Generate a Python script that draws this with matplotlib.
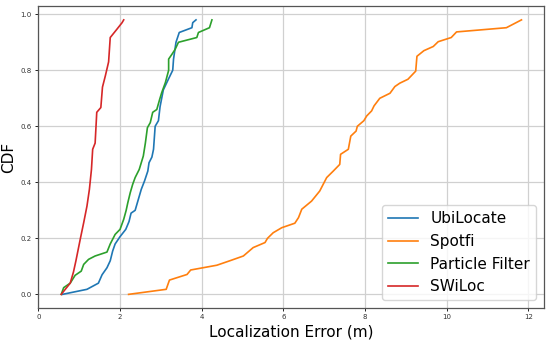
import matplotlib
matplotlib.use('Agg')
import matplotlib.pyplot as plt

# CDF curves (x = localization error in m, y = CDF)
ubi_x = [0.59, 1.19, 1.47, 1.56, 1.68, 1.76, 1.82, 1.88, 2.00, 2.14, 2.22, 2.27, 2.37,
         2.45, 2.52, 2.60, 2.68, 2.71, 2.78, 2.82, 2.86, 2.94, 2.98, 3.06, 3.19, 3.29,
         3.31, 3.37, 3.45, 3.76, 3.78, 3.86]
ubi_y = [0.0, 0.018, 0.04, 0.07, 0.095, 0.12, 0.155, 0.18, 0.206, 0.232, 0.26, 0.29, 0.30,
         0.34, 0.375, 0.405, 0.44, 0.47, 0.49, 0.518, 0.60, 0.62, 0.67, 0.73, 0.77, 0.80,
         0.84, 0.90, 0.935, 0.952, 0.97, 0.98]

spotfi_x = [2.21, 3.13, 3.21, 3.64, 3.73, 4.37, 4.69, 5.02, 5.26, 5.55, 5.61, 5.75, 5.96,
            6.28, 6.37, 6.45, 6.69, 6.89, 7.06, 7.22, 7.38, 7.40, 7.59, 7.65, 7.78, 7.81,
            7.97, 8.04, 8.16, 8.22, 8.36, 8.61, 8.73, 8.85, 9.05, 9.24, 9.27, 9.44, 9.67,
            9.79, 10.11, 10.24, 11.46, 11.83]
spotfi_y = [0.0, 0.018, 0.051, 0.071, 0.087, 0.104, 0.12, 0.137, 0.167, 0.185, 0.20, 0.22,
            0.238, 0.254, 0.274, 0.304, 0.333, 0.369, 0.417, 0.44, 0.464, 0.50, 0.518, 0.565,
            0.583, 0.60, 0.62, 0.637, 0.655, 0.673, 0.70, 0.718, 0.742, 0.754, 0.768, 0.797,
            0.85, 0.87, 0.885, 0.902, 0.917, 0.937, 0.952, 0.98]

pf_x = [0.56, 0.62, 0.78, 0.90, 1.05, 1.11, 1.23, 1.39, 1.68, 1.76, 1.88, 2.00, 2.09,
        2.15, 2.19, 2.25, 2.31, 2.37, 2.47, 2.52, 2.57, 2.62, 2.67, 2.74, 2.80, 2.90,
        2.97, 3.02, 3.11, 3.19, 3.19, 3.27, 3.35, 3.43, 3.88, 3.92, 4.19, 4.25]
pf_y = [0.0, 0.024, 0.04, 0.068, 0.083, 0.107, 0.125, 0.137, 0.151, 0.18, 0.214, 0.232,
        0.268, 0.30, 0.327, 0.363, 0.393, 0.417, 0.446, 0.47, 0.494, 0.54, 0.595, 0.613,
        0.65, 0.66, 0.696, 0.72, 0.756, 0.80, 0.84, 0.857, 0.875, 0.90, 0.917, 0.935,
        0.952, 0.98]

swiloc_x = [0.56, 0.78, 0.86, 0.92, 1.03, 1.11, 1.19, 1.25, 1.30, 1.33, 1.39, 1.43, 1.53,
            1.57, 1.64, 1.72, 1.76, 1.92, 2.05, 2.09]
swiloc_y = [0.0, 0.04, 0.08, 0.12, 0.20, 0.256, 0.315, 0.375, 0.446, 0.518, 0.54, 0.65,
            0.667, 0.74, 0.78, 0.83, 0.917, 0.946, 0.97, 0.98]

labels = ['UbiLocate', 'Spotfi', 'Particle Filter', 'SWiLoc']
colors = ['tab:blue', 'tab:orange', 'tab:green', 'tab:red']

fig = plt.figure(figsize=(5.5, 3.45), dpi=100)
ax = fig.add_axes([0.069, 0.107, 0.92, 0.876])

series = [(ubi_x, ubi_y), (spotfi_x, spotfi_y), (pf_x, pf_y), (swiloc_x, swiloc_y)]
for (xs, ys), lab, col in zip(series, labels, colors):
    ax.plot(xs, ys, color=col, linewidth=1.2, label=lab)

ax.set_xlim(-0.01, 12.38)
ax.set_ylim(-0.049, 1.03)
ax.set_xticks([0, 2, 4, 6, 8, 10, 12])
ax.set_yticks([0.0, 0.2, 0.4, 0.6, 0.8, 1.0])
ax.tick_params(labelsize=5, length=2.5, width=0.6, pad=2, labelcolor='#333333')
ax.grid(True, color='#d0d0d0', linewidth=0.9)
for s in ax.spines.values():
    s.set_color('#555555')
    s.set_linewidth(0.9)

ax.set_xlabel('Localization Error (m)', fontsize=11, labelpad=3)
ax.set_ylabel('CDF', fontsize=11, labelpad=3)
ax.legend(loc='lower right', fontsize=11, borderaxespad=0.5, framealpha=0.8)

fig.savefig('out.png', dpi=100)
